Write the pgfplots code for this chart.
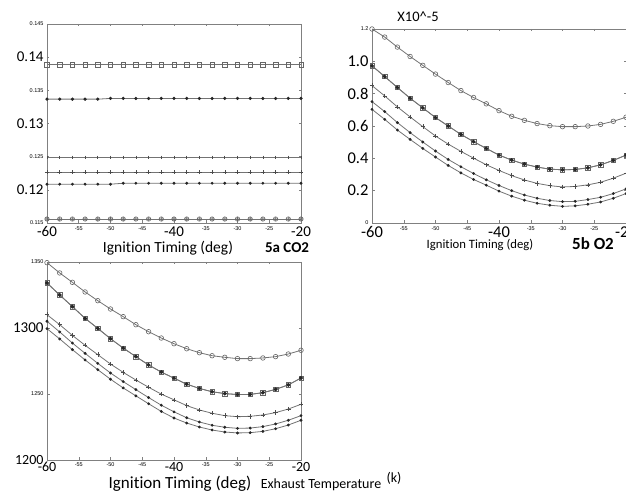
\documentclass[border=0pt]{standalone}
\usepackage{fontspec}
\setmainfont{Carlito}[Ligatures={NoCommon}]
\newfontfamily\smallsans{Liberation Sans}
\usepackage{pgfplots}
\usepackage{pgfplotstable}
\pgfplotsset{compat=1.18}

% big pasted labels and tiny matlab labels
\newcommand{\BL}[1]{{\fontsize{15}{15}\selectfont #1}}
\newcommand{\BC}[1]{{\fontsize{14}{14}\selectfont #1}}
\newcommand{\BB}[1]{{\fontsize{16.5}{16.5}\selectfont #1}}
\newcommand{\SL}[1]{{\smallsans\fontsize{5.5}{6}\selectfont #1}}

\pgfplotstableread{
x sq st pa pb da ci
-60 0.13886 0.13367 0.1249 0.12265 0.12085 0.1156
-58 0.13886 0.13367 0.1249 0.12265 0.12085 0.1156
-56 0.13886 0.13367 0.1249 0.12265 0.12085 0.1156
-54 0.13886 0.13367 0.1249 0.12265 0.12085 0.1156
-52 0.13886 0.13367 0.1249 0.12265 0.12085 0.1156
-50 0.13886 0.13378 0.1249 0.12265 0.12085 0.1156
-48 0.13886 0.13378 0.1249 0.12265 0.12099 0.1156
-46 0.13886 0.13378 0.1249 0.12265 0.12099 0.1156
-44 0.13886 0.13378 0.1249 0.12265 0.12099 0.1156
-42 0.13886 0.13378 0.1249 0.12265 0.12099 0.1156
-40 0.13886 0.13378 0.1249 0.12265 0.12099 0.1156
-38 0.13886 0.13378 0.1249 0.12265 0.12099 0.1156
-36 0.13886 0.13378 0.1249 0.12265 0.12099 0.1156
-34 0.13886 0.13378 0.1249 0.12265 0.12099 0.1156
-32 0.13886 0.13378 0.1249 0.12265 0.12099 0.1156
-30 0.13886 0.13378 0.1249 0.12265 0.12099 0.1156
-28 0.13886 0.13378 0.1249 0.12265 0.12099 0.1156
-26 0.13886 0.13378 0.1249 0.12265 0.12099 0.1156
-24 0.13886 0.13378 0.1249 0.12265 0.12099 0.1156
-22 0.13886 0.13378 0.1249 0.12265 0.12099 0.1156
-20 0.13886 0.13378 0.1249 0.12265 0.12099 0.1156
}\tabA

\pgfplotstableread{
x ci sq st pl da db
-60 1.200 0.972 0.972 0.850 0.751 0.703
-58 1.150 0.906 0.906 0.786 0.689 0.641
-56 1.088 0.838 0.838 0.718 0.621 0.575
-54 1.030 0.772 0.772 0.656 0.559 0.517
-52 0.975 0.712 0.712 0.596 0.501 0.461
-50 0.921 0.652 0.652 0.538 0.445 0.408
-48 0.869 0.600 0.600 0.488 0.393 0.356
-46 0.819 0.548 0.548 0.443 0.348 0.310
-44 0.776 0.503 0.503 0.401 0.306 0.269
-42 0.737 0.461 0.461 0.360 0.267 0.234
-40 0.695 0.420 0.420 0.325 0.232 0.197
-38 0.660 0.389 0.389 0.293 0.200 0.166
-36 0.635 0.364 0.364 0.266 0.173 0.141
-34 0.615 0.346 0.346 0.245 0.153 0.122
-32 0.602 0.333 0.333 0.231 0.139 0.110
-30 0.596 0.329 0.329 0.223 0.132 0.103
-28 0.596 0.331 0.331 0.226 0.134 0.106
-26 0.600 0.341 0.341 0.236 0.145 0.116
-24 0.610 0.360 0.360 0.252 0.159 0.130
-22 0.629 0.387 0.387 0.277 0.182 0.153
-20 0.654 0.420 0.420 0.308 0.211 0.182
}\tabB

\pgfplotstableread{
x ci sq st pl da db
-60 1349.5 1334.1 1334.1 1310.1 1305.1 1299.5
-58 1341.7 1325.0 1325.0 1302.5 1297.0 1291.7
-56 1334.6 1316.2 1316.2 1294.4 1288.6 1283.6
-54 1327.3 1307.3 1307.3 1286.9 1280.8 1275.8
-52 1320.7 1299.7 1299.7 1279.8 1273.2 1268.4
-50 1314.4 1291.9 1291.9 1272.7 1265.9 1261.2
-48 1308.6 1284.8 1284.8 1266.4 1259.4 1254.6
-46 1302.5 1278.3 1278.3 1260.6 1253.3 1248.6
-44 1297.2 1272.0 1272.0 1255.1 1247.3 1242.6
-42 1292.4 1266.6 1266.6 1249.9 1241.5 1236.8
-40 1288.1 1262.0 1262.0 1245.6 1236.5 1231.8
-38 1284.3 1257.4 1257.4 1241.2 1232.0 1228.0
-36 1281.3 1254.2 1254.2 1237.9 1228.8 1225.0
-34 1279.0 1251.7 1251.7 1235.4 1226.3 1222.7
-32 1277.8 1250.3 1250.3 1233.6 1224.8 1221.2
-30 1276.8 1249.6 1249.6 1232.8 1224.0 1220.5
-28 1276.8 1249.7 1249.7 1233.1 1224.2 1220.7
-26 1277.3 1251.0 1251.0 1234.1 1225.3 1221.7
-24 1278.3 1253.5 1253.5 1235.9 1227.3 1223.7
-22 1280.3 1256.9 1256.9 1238.6 1230.1 1226.5
-20 1283.1 1262.1 1262.1 1242.2 1233.6 1230.1
}\tabC

\pgfplotsset{
  panel/.style={
    scale only axis, width=254pt, anchor=south west,
    xmin=-60, xmax=-20,
    xtick={-60,-55,...,-20},
    xticklabels={\BL{-60},\SL{-55},\SL{-50},\SL{-45},\BL{-40},\SL{-35},\SL{-30},\SL{-25},\BL{-20}},
    tick align=inside, xtick pos=both, ytick pos=both,
    xticklabel pos=lower, yticklabel pos=left,
    major tick length=2.5pt,
    axis line style={black!50, line width=0.7pt},
    every tick/.style={black!50, line width=0.5pt},
    clip=false,
    every axis plot/.append style={line width=0.8pt, color=black!55},
  },
  mci/.style={mark=o, mark size=2.3pt, mark options={solid, black!60, line width=0.6pt}},
  msq/.style={mark=square, mark size=2.2pt, mark options={solid, black!60, line width=0.6pt}},
  mst/.style={mark=*, mark size=1.5pt, mark options={solid, black!85}},
  mpl/.style={mark=+, mark size=2.2pt, mark options={solid, black!70, line width=0.6pt}},
  mda/.style={mark=*, mark size=1pt, mark options={solid, black!85}},
}

\begin{document}
\begin{tikzpicture}
\useasboundingbox (0,0) rectangle (626pt,492pt);

% 5a CO2
\begin{axis}[panel, at={(47pt,269pt)}, height=199pt,
  ymin=0.115, ymax=0.145,
  ytick={0.115,0.12,0.125,0.13,0.135,0.14,0.145},
  yticklabels={\SL{0.115},\BL{0.12},\SL{0.125},\BL{0.13},\SL{0.135},\BL{0.14},\SL{0.145}}]
\addplot[msq] table[x=x, y=sq] {\tabA};
\addplot[mst, mark size=1.2pt] table[x=x, y=st] {\tabA};
\addplot[mark=|, mark size=1.8pt, mark options={black!70}] table[x=x, y=pa] {\tabA};
\addplot[mpl] table[x=x, y=pb] {\tabA};
\addplot[mda] table[x=x, y=da] {\tabA};
\addplot[mark=oplus, mark size=2.2pt, mark options={black!60, line width=0.6pt}] table[x=x, y=ci] {\tabA};
\end{axis}

% 5b O2
\begin{axis}[panel, at={(372pt,269pt)}, height=194pt,
  ymin=0, ymax=1.2,
  ytick={0,0.2,0.4,0.6,0.8,1.0,1.2},
  yticklabels={\SL{0},\BB{0.2}\hspace{10pt},\BB{0.4}\hspace{10pt},\BB{0.6}\hspace{10pt},\BB{0.8}\hspace{10pt},\BB{1.0}\hspace{10pt},\SL{1.2}},
  xticklabels={\BB{-60},\SL{-55},\SL{-50},\SL{-45},\BB{-40},\SL{-35},\SL{-30},\SL{-25},\BB{-20}}]
\addplot[mci] table[x=x, y=ci] {\tabB};
\addplot[msq] table[x=x, y=sq] {\tabB};
\addplot[mst] table[x=x, y=st] {\tabB};
\addplot[mpl] table[x=x, y=pl] {\tabB};
\addplot[mda] table[x=x, y=da] {\tabB};
\addplot[mda] table[x=x, y=db] {\tabB};
\end{axis}

% exhaust temperature
\begin{axis}[panel, at={(47pt,32pt)}, height=198pt,
  ymin=1200, ymax=1350,
  ytick={1200,1250,1300,1350},
  yticklabels={\BC{1200},\SL{1250},\BL{1300},\SL{1350}},
  xticklabels={\BC{-60},\SL{-55},\SL{-50},\SL{-45},\BC{-40},\SL{-35},\SL{-30},\SL{-25},\BC{-20}},
  xticklabel style={yshift=1pt}]
\addplot[mci] table[x=x, y=ci] {\tabC};
\addplot[msq] table[x=x, y=sq] {\tabC};
\addplot[mst] table[x=x, y=st] {\tabC};
\addplot[mpl] table[x=x, y=pl] {\tabC};
\addplot[mda] table[x=x, y=da] {\tabC};
\addplot[mda] table[x=x, y=db] {\tabC};
\end{axis}

\node[anchor=base, font=\fontsize{15.5}{16}\selectfont] at (168pt,239pt) {Ignition Timing (deg)};
\node[anchor=base, font=\bfseries\fontsize{15}{15}\selectfont] at (287pt,239pt) {5a CO2};
\node[anchor=base, font=\fontsize{12.7}{13}\selectfont] at (480pt,243pt) {Ignition Timing (deg)};
\node[anchor=base, font=\bfseries\fontsize{17}{17}\selectfont] at (593pt,242pt) {5b O2};
\node[font=\fontsize{14.5}{15}\selectfont] at (418pt,475pt) {X10\textasciicircum-5};
\node[anchor=base, font=\fontsize{17}{18}\selectfont] at (180pt,3pt) {Ignition Timing (deg)};
\node[anchor=base, font=\fontsize{14}{14}\selectfont] at (321pt,3pt) {Exhaust Temperature};
\node[anchor=base, font=\fontsize{14}{14}\selectfont] at (394pt,9pt) {(k)};
\end{tikzpicture}
\end{document}
